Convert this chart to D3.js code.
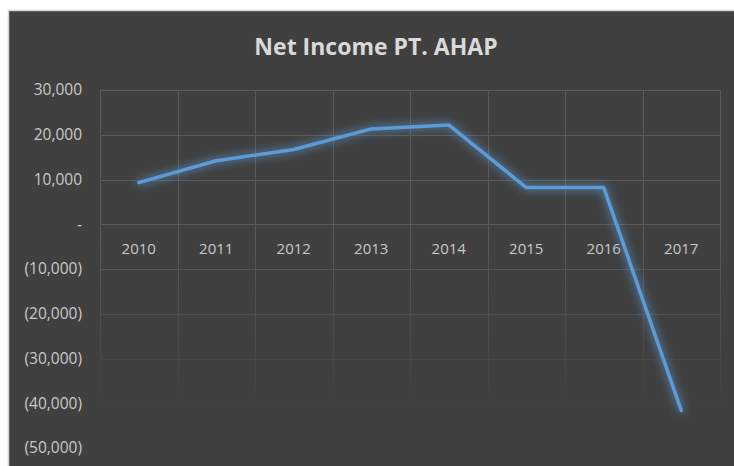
<!DOCTYPE html>
<html>
<head>
<meta charset="utf-8">
<script src="https://cdn.jsdelivr.net/npm/d3@7"></script>
<style>
  body { margin: 0; background: #fff; }
  text { font-family: "Open Sans", "DejaVu Sans", sans-serif; }
</style>
</head>
<body>
<svg id="chart" width="734" height="466"></svg>
<script>
const years = ["2010","2011","2012","2013","2014","2015","2016","2017"];
const netIncome = [9300, 14200, 16700, 21300, 22200, 8200, 8200, -41600];
const yTicks = [30000, 20000, 10000, 0, -10000, -20000, -30000, -40000, -50000];
const title = "Net Income PT. AHAP";

const width = 734, height = 466;
const plot = {left: 100, right: 720, top: 90, bottom: 448};

const svg = d3.select("#chart");
const defs = svg.append("defs");

// glow around the line
const glow = defs.append("filter").attr("id", "glow")
    .attr("x", "-20%").attr("y", "-20%").attr("width", "140%").attr("height", "140%");
glow.append("feGaussianBlur").attr("in", "SourceGraphic").attr("stdDeviation", 5).attr("result", "blur");
glow.append("feComponentTransfer").attr("in", "blur").attr("result", "soft")
    .append("feFuncA").attr("type", "linear").attr("slope", 1.1);
const merge = glow.append("feMerge");
merge.append("feMergeNode").attr("in", "soft");
merge.append("feMergeNode").attr("in", "SourceGraphic");

// gridlines fade out towards the bottom
const grad = defs.append("linearGradient").attr("id", "fade")
    .attr("gradientUnits", "userSpaceOnUse")
    .attr("x1", 0).attr("x2", 0).attr("y1", plot.top).attr("y2", plot.bottom);
grad.append("stop").attr("offset", "0.42").attr("stop-color", "#fff");
grad.append("stop").attr("offset", "0.9").attr("stop-color", "#000");
defs.append("mask").attr("id", "gridMask")
    .attr("maskUnits", "userSpaceOnUse")
    .attr("x", 0).attr("y", 0).attr("width", width).attr("height", height)
  .append("rect")
    .attr("x", 0).attr("y", 0).attr("width", width).attr("height", height)
    .attr("fill", "url(#fade)");

// background
svg.append("rect")
    .attr("x", 8.5).attr("y", 10.5)
    .attr("width", width).attr("height", height)
    .attr("fill", "#404040")
    .attr("stroke", "#d4d4d4")
    .attr("stroke-width", 1.5);

const x = d3.scaleBand().domain(years).range([plot.left, plot.right]);
const y = d3.scaleLinear().domain([-50000, 30000]).range([plot.bottom, plot.top]);

// grid
const grid = svg.append("g").attr("mask", "url(#gridMask)")
    .attr("stroke", "#5a5a5a").attr("stroke-width", 1);
grid.selectAll(".hline")
    .data(yTicks.filter(d => d !== -50000))
    .enter().append("line")
    .attr("class", "hline")
    .attr("x1", plot.left).attr("x2", plot.right)
    .attr("y1", d => Math.round(y(d)) + 0.5)
    .attr("y2", d => Math.round(y(d)) + 0.5);
grid.selectAll(".vline")
    .data(years.concat(["end"]))
    .enter().append("line")
    .attr("class", "vline")
    .attr("x1", (d, i) => Math.round(plot.left + i * x.bandwidth()) + 0.5)
    .attr("x2", (d, i) => Math.round(plot.left + i * x.bandwidth()) + 0.5)
    .attr("y1", plot.top)
    .attr("y2", plot.bottom);

// y axis labels
const fmt = d3.format(",");
const yLabel = d => d === 0 ? "-" : d < 0 ? "(" + fmt(-d) + ")" : fmt(d);
const yAxis = d3.axisLeft(y).tickValues(yTicks).tickFormat(yLabel).tickSize(0).tickPadding(0);
const yg = svg.append("g").attr("transform", "translate(82,0)").call(yAxis);
yg.select(".domain").remove();
yg.selectAll("text")
    .attr("fill", "#c8c8c8")
    .attr("font-size", 15.5)
    .attr("font-family", "\"Open Sans\", sans-serif");

// x axis labels just below zero line
const xAxis = d3.axisBottom(x).tickSize(0).tickPadding(0);
const xg = svg.append("g").attr("transform", `translate(0,${y(0) + 19})`).call(xAxis);
xg.select(".domain").remove();
xg.selectAll("text")
    .attr("fill", "#c8c8c8")
    .attr("font-size", 15)
    .attr("font-family", "\"Open Sans\", sans-serif");

// title
svg.append("text")
    .attr("x", 376)
    .attr("y", 55)
    .attr("text-anchor", "middle")
    .attr("font-size", 23)
    .attr("font-weight", "bold")
    .attr("fill", "#d9d9d9")
    .text(title);

// line
const line = d3.line()
    .x((d, i) => x(years[i]) + x.bandwidth() / 2)
    .y(d => y(d));
svg.append("path")
    .datum(netIncome)
    .attr("d", line)
    .attr("fill", "none")
    .attr("stroke", "#5b9bd5")
    .attr("stroke-width", 3.5)
    .attr("stroke-linejoin", "round")
    .attr("stroke-linecap", "round")
    .attr("filter", "url(#glow)");
</script>
</body>
</html>
